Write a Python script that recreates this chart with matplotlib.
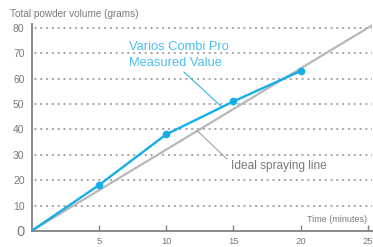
import matplotlib.pyplot as plt

plt.rcParams['font.family'] = ['Liberation Sans', 'DejaVu Sans']

time = [0, 5, 10, 15, 20]
measured = [0, 18, 38, 51, 63]
ideal_time = [0, 25.3]
ideal = [0, 80.96]
xticks = [5, 10, 15, 20, 25]
yticks = [0, 10, 20, 30, 40, 50, 60, 70, 80]

cyan = '#16ade8'
cyan_text = '#4cbfec'
grey_line = '#b8b8b8'
grey_text = '#7a7a7a'

fig = plt.figure(figsize=(3.73, 2.47), dpi=100)
ax = fig.add_axes([0.0845, 0.065, 0.913, 0.838])
ax.set_xlim(0, 25.3)
ax.set_ylim(0, 81.5)

for y in yticks[1:]:
    ax.plot([0.25, 25.3], [y, y], color='#8a8a8a', lw=1.1,
            linestyle=(0, (0.6, 3.2)), dash_capstyle='round', zorder=1)

ax.plot(ideal_time, ideal, color=grey_line, lw=1.6, zorder=2)
ax.plot(time, measured, color=cyan, lw=1.7, zorder=3)
ax.plot(time[1:], measured[1:], 'o', color=cyan, ms=4.5, zorder=4)

for s in ['top', 'right']:
    ax.spines[s].set_visible(False)
for s in ['left', 'bottom']:
    ax.spines[s].set_color('#808080')
    ax.spines[s].set_linewidth(1.3)

ax.set_xticks(xticks)
ax.set_xticklabels([str(t) for t in xticks])
ax.set_yticks(yticks)
ax.set_yticklabels([str(t) for t in yticks])
ax.tick_params(axis='x', direction='in', length=4, width=1, color='#808080',
               labelsize=6.8, labelcolor=grey_text, pad=4)
ax.tick_params(axis='y', length=0, labelsize=7.5, labelcolor=grey_text, pad=5)
lab0 = ax.get_yticklabels()[0]
lab0.set_fontsize(10.5)

fig.text(0.027, 0.945, 'Total powder volume (grams)', fontsize=7.2,
         color=grey_text, ha='left', va='center')
ax.text(24.9, 4.5, 'Time (minutes)', fontsize=6.5, color=grey_text,
        ha='right', va='center')

# measured value label, two lines left aligned
ax.text(7.22, 72.6, 'Varios Combi Pro', fontsize=9.3, color=cyan_text,
        ha='left', va='center')
ax.text(7.22, 66.2, 'Measured Value', fontsize=9.3, color=cyan_text,
        ha='left', va='center')
ax.annotate('', xy=(14.14, 48.8), xytext=(11.32, 62.6),
            arrowprops=dict(arrowstyle='-', color=cyan, lw=0.7,
                            shrinkA=0, shrinkB=0))

ax.annotate('Ideal spraying line', xy=(12.3, 39.5),
            xytext=(14.8, 25.5), fontsize=8.6, color=grey_text, ha='left',
            va='center',
            arrowprops=dict(arrowstyle='-', color='#999999', lw=0.7,
                            shrinkA=1, shrinkB=0, relpos=(0.0, 0.8)))

fig.savefig('out.png', dpi=100)
